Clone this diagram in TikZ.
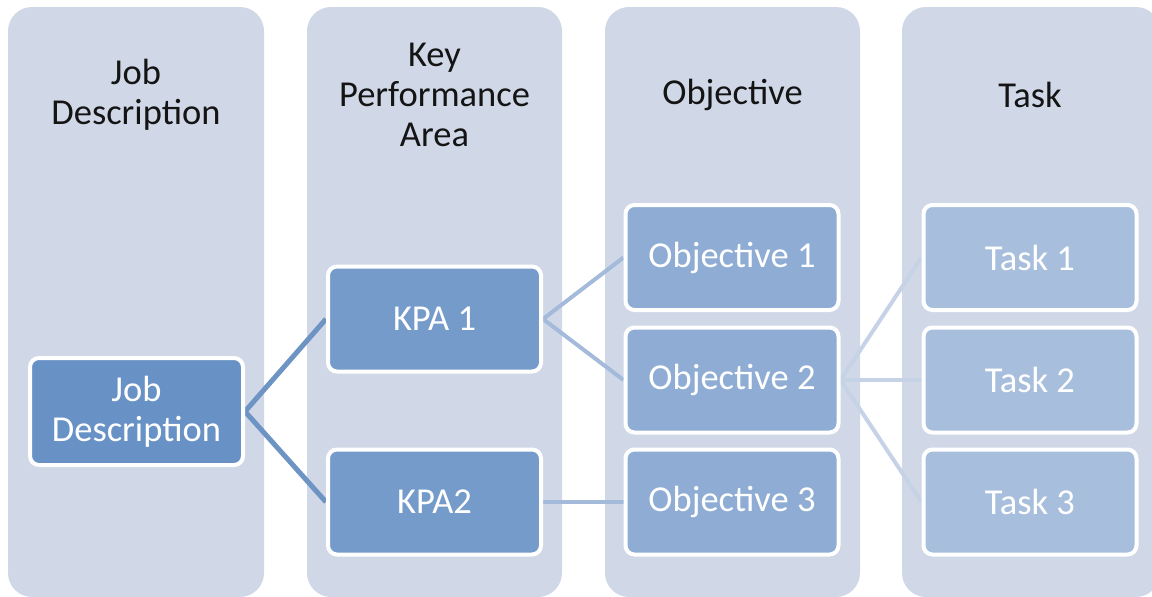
\documentclass[tikz,border=0pt]{standalone}
\usepackage{fontspec}
\setmainfont{Carlito}
\pgfdeclarelayer{panels}
\pgfdeclarelayer{links}
\pgfsetlayers{panels,links,main}
\definecolor{panelbg}{RGB}{208,216,232}
\definecolor{jdfill}{RGB}{104,146,197}
\definecolor{kpafill}{RGB}{117,155,203}
\definecolor{objfill}{RGB}{143,173,212}
\definecolor{taskfill}{RGB}{168,190,221}
\definecolor{linkA}{RGB}{110,148,196}
\definecolor{linkB}{RGB}{163,186,219}
\definecolor{linkC}{RGB}{198,211,231}
\definecolor{titletext}{RGB}{20,20,20}
\tikzset{
  panel/.style={fill=panelbg, rounded corners=24pt},
  coltitle/.style={align=center, text=titletext, font=\fontsize{36.5}{40}\selectfont},
  box/.style={draw=white, line width=4pt, rounded corners=9pt,
    minimum width=213pt, minimum height=105pt, align=center,
    text=white, inner sep=0pt, font=\fontsize{36.5}{40}\selectfont},
  link/.style={line width=4pt},
}
\begin{document}
\begin{tikzpicture}[x=1pt,y=-1pt]
\useasboundingbox (0,0) rectangle (1152,597);
\clip (0,0) rectangle (1152,597);

% column panels
\begin{pgfonlayer}{panels}
  \fill[panel] (8,7) rectangle (264,597);
  \fill[panel] (307,7) rectangle (562,597);
  \fill[panel] (605,7) rectangle (860,597);
  \fill[panel] (902,7) rectangle (1160,597);
\end{pgfonlayer}

% column headings
\node[coltitle] (t1) at (136,95) {Job\\Description};
\node[coltitle] (t2) at (434.5,95) {Key\\Performance\\Area};
\node[coltitle] (t3) at (732.5,95) {Objective};
\node[coltitle] (t4) at (1030,95) {Task};

% hierarchy boxes
\node[box, fill=jdfill, minimum height=107pt] (jd) at (136.5,411.5) {Job\\Description};
\node[box, fill=kpafill] (kpa1) at (434.5,319) {KPA 1};
\node[box, fill=kpafill] (kpa2) at (434.5,502) {KPA2};
\node[box, fill=objfill] (obj1) at (732,257.5) {Objective 1};
\node[box, fill=objfill] (obj2) at (732,380) {Objective 2};
\node[box, fill=objfill] (obj3) at (732,502) {Objective 3};
\node[box, fill=taskfill] (task1) at (1030,257.5) {Task 1};
\node[box, fill=taskfill] (task2) at (1030,380) {Task 2};
\node[box, fill=taskfill] (task3) at (1030,502) {Task 3};

% connectors
\begin{pgfonlayer}{links}
  \draw[link, linkA, line width=5pt] (kpa1.west) -- (jd.east) -- (kpa2.west);
  \draw[link, linkB] (obj1.west) -- (kpa1.east) -- (obj2.west);
  \draw[link, linkB] (kpa2.east) -- (obj3.west);
  \draw[link, linkC] (task1.west) -- (obj2.east) -- (task3.west);
  \draw[link, linkC] (obj2.east) -- (task2.west);
\end{pgfonlayer}
\end{tikzpicture}
\end{document}
